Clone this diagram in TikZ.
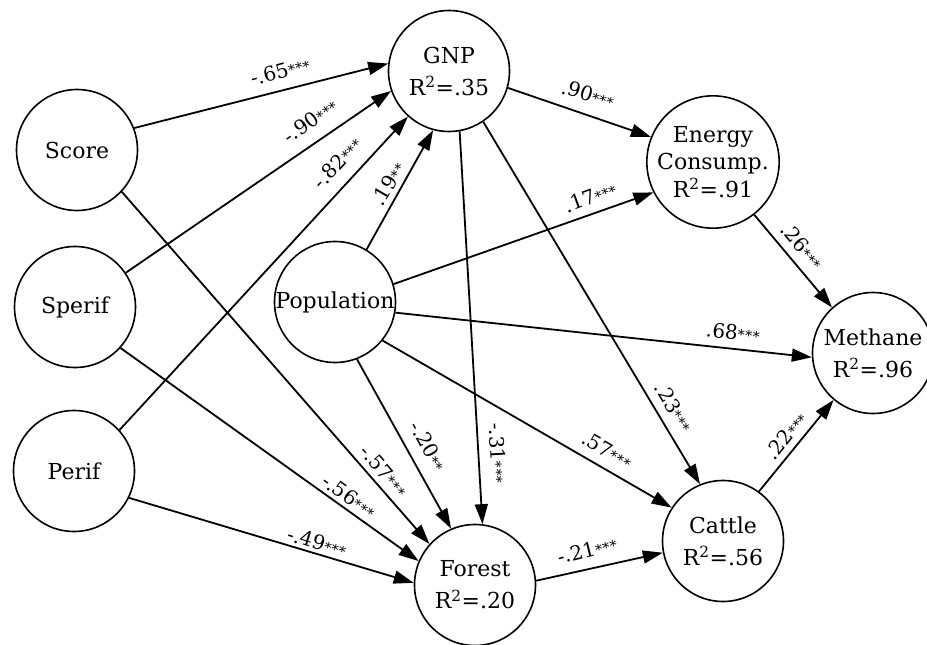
\documentclass[tikz,border=0pt]{standalone}
\usepackage{fontspec}
\setmainfont{DejaVu Serif}
\usetikzlibrary{arrows.meta}
\newcommand{\sigstars}{{\fontsize{14}{14}\selectfont*\kern0.5pt*\kern0.5pt*}}
\newcommand{\sigtwo}{{\fontsize{14}{14}\selectfont*\kern0.5pt*}}
\begin{document}
\begin{tikzpicture}[x=1pt,y=-1pt,
  var/.style={circle,draw,line width=1.6pt,minimum size=121pt,inner sep=0pt,align=center,font=\fontsize{22}{32}\selectfont},
  pth/.style={line width=1.8pt,-{Triangle[length=20pt,width=13pt]}},
  coef/.style={font=\fontsize{20}{22}\selectfont,inner sep=1pt}]
\useasboundingbox[fill=white] (0,0) rectangle (927,645);
% variables
\node[var] (score) at (77,150) {Score};
\node[var] (sperif) at (75,307) {Sperif};
\node[var] (perif) at (74,471) {Perif};
\node[var] (gnp) at (449,71) {GNP\\R\textsuperscript{2}=.35};
\node[var] (pop) at (335,302) {Population};
\node[var,font=\fontsize{22}{27.5}\selectfont] (energy) at (713,162) {Energy\\Consump.\\R\textsuperscript{2}=.91};
\node[var] (methane) at (873,353) {Methane\\R\textsuperscript{2}=.96};
\node[var] (cattle) at (723,541) {Cattle\\R\textsuperscript{2}=.56};
\node[var] (forest) at (475,585) {Forest\\R\textsuperscript{2}=.20};
% paths
\draw[pth] (score.21) -- (gnp.173);
\draw[pth] (sperif.34) -- (gnp.199);
\draw[pth] (perif.42) -- (gnp.228);
\draw[pth] (pop.59) -- (gnp.255);
\draw[pth] (score.-43) -- (forest.138);
\draw[pth] (sperif.-42) -- (forest.157);
\draw[pth] (perif.-26) -- (forest.178);
\draw[pth] (pop.-69) -- (forest.113);
\draw[pth] (gnp.-80) -- (forest.83);
\draw[pth] (gnp.-56) -- (cattle.112);
\draw[pth] (gnp.-16) -- (energy.158);
\draw[pth] (pop.17) -- (energy.207);
\draw[pth] (energy.-52) -- (methane.132);
\draw[pth] (pop.-10) -- (methane.184);
\draw[pth] (pop.-39) -- (cattle.147);
\draw[pth] (forest.4) -- (cattle.191);
\draw[pth] (cattle.54) -- (methane.230);
% coefficients
\node[coef,rotate=15] (l1) at (280,71) {-.65\sigstars};
\node[coef,rotate=35] (l2) at (310,121) {-.90\sigstars};
\node[coef,rotate=47] (l3) at (337,163) {-.82\sigstars};
\node[coef,rotate=60] (l4) at (388,184) {.19\sigtwo};
\node[coef,rotate=-17] (l5) at (588,94) {.90\sigstars};
\node[coef,rotate=20] (l6) at (590,197) {.17\sigstars};
\node[coef,rotate=-50] (l7) at (802,246) {.26\sigstars};
\node[coef,rotate=-6] (l8) at (733,332) {.68\sigstars};
\node[coef,rotate=-87] (l9) at (498,453) {-.31\sigstars};
\node[coef,rotate=-59] (l10) at (674,407) {.23\sigstars};
\node[coef,rotate=-61] (l11) at (428,446) {-.20\sigtwo};
\node[coef,rotate=-30] (l12) at (607,450) {.57\sigstars};
\node[coef,rotate=-49] (l13) at (384,471) {-.57\sigstars};
\node[coef,rotate=-36] (l14) at (349,496) {-.56\sigstars};
\node[coef,rotate=-17] (l15) at (317,542) {-.49\sigstars};
\node[coef,rotate=14] (l16) at (587,550) {-.21\sigstars};
\node[coef,rotate=51] (l17) at (786,436) {.22\sigstars};
\end{tikzpicture}
\end{document}
